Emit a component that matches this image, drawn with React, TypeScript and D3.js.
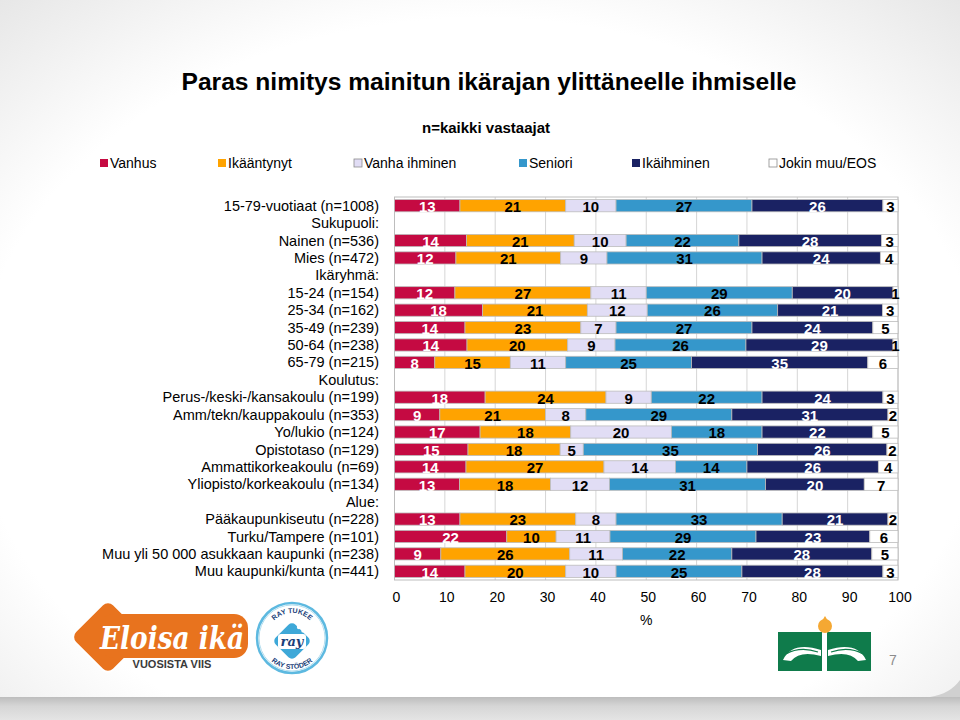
import React from "react";
import * as d3 from "d3";

const rowLabels = [
  "15-79-vuotiaat (n=1008)",
  "Sukupuoli:",
  "Nainen (n=536)",
  "Mies (n=472)",
  "Ikäryhmä:",
  "15-24 (n=154)",
  "25-34 (n=162)",
  "35-49 (n=239)",
  "50-64 (n=238)",
  "65-79 (n=215)",
  "Koulutus:",
  "Perus-/keski-/kansakoulu (n=199)",
  "Amm/tekn/kauppakoulu (n=353)",
  "Yo/lukio (n=124)",
  "Opistotaso (n=129)",
  "Ammattikorkeakoulu (n=69)",
  "Yliopisto/korkeakoulu (n=134)",
  "Alue:",
  "Pääkaupunkiseutu (n=228)",
  "Turku/Tampere (n=101)",
  "Muu yli 50 000 asukkaan kaupunki (n=238)",
  "Muu kaupunki/kunta (n=441)",
];

const seriesNames = ["Vanhus", "Ikääntynyt", "Vanha ihminen", "Seniori", "Ikäihminen", "Jokin muu/EOS"];

const vanhus = [13, null, 14.3, 12.2, null, 12, 17.5, 14, 14.4, 8, null, 18, 9, 17, 14.6, 14.2, 12.9, null, 13, 22.3, 9.2, 14];
const ikaantynyt = [21, null, 21.4, 20.8, null, 27, 20.8, 23, 20.0, 15, null, 24, 21, 18, 18.3, 27.4, 18.1, null, 23, 9.8, 25.6, 20];
const vanhaIhminen = [10, null, 10.3, 9.2, null, 11, 11.9, 7, 9.4, 11, null, 9, 8, 20, 4.6, 14.2, 11.7, null, 8, 10.7, 10.5, 10];
const seniori = [27, null, 22.4, 30.8, null, 29, 25.9, 27, 26.0, 25, null, 22, 29, 18, 34.6, 14.2, 31.0, null, 33, 29.0, 21.7, 25];
const ikaihminen = [26, null, 28.3, 23.5, null, 20, 20.8, 24, 29.2, 35, null, 24, 31, 22, 25.7, 26.1, 19.6, null, 21, 22.6, 27.8, 28];
const jokinMuu = [3, null, 3.3, 3.5, null, 1, 3.1, 5, 1.0, 6, null, 3, 2, 5, 2.2, 3.9, 6.7, null, 2, 5.6, 5.2, 3];

const xTicks = [0, 10, 20, 30, 40, 50, 60, 70, 80, 90, 100];

const seriesValues = [vanhus, ikaantynyt, vanhaIhminen, seniori, ikaihminen, jokinMuu];
const colors = ["#C50A42", "#FFA300", "#E1DDF5", "#3597CB", "#1A2263", "#FFFFFF"];
const labelColors = ["#FFFFFF", "#000000", "#000000", "#000000", "#FFFFFF", "#000000"];
const legendX = [100, 218, 354, 519, 632, 769];

const FONT = "'Liberation Sans', Arial, sans-serif";

export default function App() {
  const plotTop = 197;
  const plotBottom = 580;
  const x = d3.scaleLinear().domain([0, 100]).range([394.5, 898]);
  const y = d3
    .scaleBand<number>()
    .domain(d3.range(rowLabels.length))
    .range([plotTop, plotBottom])
    .paddingInner(0.3)
    .paddingOuter(0.15);

  const table = rowLabels.map((label, i) => {
    const vals = seriesValues.map((s) => s[i]);
    return { label, i, vals };
  });
  const stack = d3
    .stack<any>()
    .keys(d3.range(6).map(String))
    .value((d: any, k: string) => (d.vals[+k] == null ? 0 : d.vals[+k]));
  const stacked = stack(table.filter((r) => r.vals[0] != null) as any);

  return (
    <svg
      width={960}
      height={720}
      style={{ position: "absolute", left: 0, top: 0, fontFamily: FONT }}
    >
      <defs>
        <radialGradient id="bg" cx="50%" cy="55%" r="75%">
          <stop offset="0%" stopColor="#ffffff" />
          <stop offset="70%" stopColor="#ffffff" />
          <stop offset="100%" stopColor="#e6e6e6" />
        </radialGradient>
        <linearGradient id="bottomBand" x1="0" y1="0" x2="0" y2="1">
          <stop offset="0%" stopColor="#bdbdbd" />
          <stop offset="40%" stopColor="#d6d6d6" />
          <stop offset="100%" stopColor="#e4e4e4" />
        </linearGradient>
        <path id="rayTop" d="M 267 638 A 25 25 0 0 1 317 638" />
        <path id="rayBottom" d="M 261 638 A 31 31 0 0 0 323 638" />
      </defs>
      <rect x={0} y={0} width={960} height={720} fill="url(#bg)" />
      <rect x={0} y={697} width={960} height={23} fill="url(#bottomBand)" />
      <path d="M 930 697 Q 950 694 960 680 L 960 697 Z" fill="#d0d0d0" />

      {/* Title */}
      <text
        x={489}
        y={90}
        textAnchor="middle"
        fontSize={23}
        fontWeight="bold"
        textLength={615}
        lengthAdjust="spacingAndGlyphs"
      >
        Paras nimitys mainitun ikärajan ylittäneelle ihmiselle
      </text>
      <text
        x={486}
        y={133}
        textAnchor="middle"
        fontSize={14}
        fontWeight="bold"
        textLength={128}
        lengthAdjust="spacingAndGlyphs"
      >
        n=kaikki vastaajat
      </text>

      {/* Legend */}
      {seriesNames.map((name, k) => (
        <g key={name}>
          <rect
            x={legendX[k]}
            y={159}
            width={8}
            height={8}
            fill={colors[k]}
            stroke={k === 2 || k === 5 ? "#8c8c8c" : "none"}
            strokeWidth={0.8}
          />
          <text x={legendX[k] + 10} y={168} fontSize={14} fill="#000">
            {name}
          </text>
        </g>
      ))}

      {/* Grid */}
      {xTicks.map((t) => (
        <line
          key={t}
          x1={x(t)}
          x2={x(t)}
          y1={plotTop}
          y2={plotBottom}
          stroke="#d6d6d6"
          strokeWidth={1}
        />
      ))}
      <rect
        x={x(0)}
        y={plotTop}
        width={x(100) - x(0)}
        height={plotBottom - plotTop}
        fill="none"
        stroke="#bdbdbd"
        strokeWidth={1}
      />

      {/* Row labels */}
      {rowLabels.map((label, i) => (
        <text
          key={i}
          x={379}
          y={(y(i) as number) + y.bandwidth() / 2}
          dy="0.35em"
          textAnchor="end"
          fontSize={14.5}
          fill="#000"
        >
          {label}
        </text>
      ))}

      {/* Bars */}
      {stacked.map((layer, k) => (
        <g key={k}>
          {layer.map((seg: any) => {
            const row = seg.data;
            const v = row.vals[k];
            const x0 = x(seg[0]);
            const x1 = x(seg[1]);
            const yy = y(row.i) as number;
            return (
              <g key={row.i}>
                <rect
                  x={x0}
                  y={yy}
                  width={x1 - x0}
                  height={y.bandwidth()}
                  fill={colors[k]}
                  stroke="#bcbcbc"
                  strokeWidth={0.8}
                />
                <text
                  x={(x0 + x1) / 2}
                  y={yy + y.bandwidth() / 2}
                  dy="0.42em"
                  textAnchor="middle"
                  fontSize={15}
                  fontWeight="bold"
                  fill={labelColors[k]}
                >
                  {Math.round(v)}
                </text>
              </g>
            );
          })}
        </g>
      ))}

      {/* X axis */}
      {xTicks.map((t) => (
        <text key={t} x={x(t) + 2} y={602} textAnchor="middle" fontSize={14} fill="#000">
          {t}
        </text>
      ))}
      <text x={x(50)} y={625} textAnchor="middle" fontSize={14} fill="#000">
        %
      </text>

      {/* Eloisa ikä logo */}
      <g>
        <rect
          x={81}
          y={610}
          width={54}
          height={54}
          rx={8}
          transform="rotate(45 108 637)"
          fill="#E8731E"
          stroke="#fff"
          strokeWidth={2}
        />
        <rect x={100} y={614} width={148} height={44} rx={14} fill="#E8731E" />
        <text
          x={172}
          y={649}
          textAnchor="middle"
          fontSize={32}
          fontStyle="italic"
          fontWeight="bold"
          fill="#fff"
          fontFamily="'DejaVu Serif', serif"
          textLength={144}
          lengthAdjust="spacingAndGlyphs"
        >
          Eloisa ikä
        </text>
        <text x={172} y={668} textAnchor="middle" fontSize={11} fontWeight="bold" fill="#3a3a3a">
          VUOSISTA VIIS
        </text>
      </g>

      {/* RAY logo */}
      <g>
        <circle cx={292} cy={638} r={35} fill="#fff" stroke="#5DB9E0" strokeWidth={2.5} />
        <circle cx={292} cy={638} r={33} fill="none" stroke="#9fd4ea" strokeWidth={0.8} />
        <rect
          x={278}
          y={627}
          width={28}
          height={28}
          rx={5}
          transform="rotate(45 292 641)"
          fill="#3EA8D8"
        />
        <rect x={278} y={634} width={28} height={15} rx={3} fill="#fff" />
        <text
          x={292}
          y={646}
          textAnchor="middle"
          fontSize={13}
          fontStyle="italic"
          fontWeight="bold"
          fill="#1B3F7A"
          fontFamily="'DejaVu Serif', serif"
        >
          ray
        </text>
        <circle cx={299} cy={627} r={2.2} fill="#fff" />
        <circle cx={303} cy={631} r={1.6} fill="#fff" />
        <text fontSize={7} fontWeight="bold" fill="#1B3F7A">
          <textPath href="#rayTop" startOffset="50%" textAnchor="middle">
            RAY TUKEE
          </textPath>
        </text>
        <text fontSize={7} fontWeight="bold" fill="#1B3F7A">
          <textPath href="#rayBottom" startOffset="50%" textAnchor="middle">
            RAY STÖDER
          </textPath>
        </text>
      </g>

      {/* Right logo */}
      <g>
        <rect x={778} y={632} width={44} height={39} fill="#0F7B4B" />
        <rect x={827} y={632} width={44} height={39} fill="#0F7B4B" />
        <circle cx={825} cy={626} r={7} fill="#F5A833" />
        <path d="M 822 621 L 825 616 L 828 621 Z" fill="#F5A833" />
        <path d="M 783 660 Q 792 641 821 650 L 821 656 Q 800 650 791 661 Z" fill="#fff" />
        <path d="M 786 654 Q 800 646 818 652" fill="none" stroke="#0F7B4B" strokeWidth={1.2} />
        <path d="M 866 660 Q 857 641 828 650 L 828 656 Q 849 650 858 661 Z" fill="#fff" />
        <path d="M 863 654 Q 849 646 831 652" fill="none" stroke="#0F7B4B" strokeWidth={1.2} />
      </g>
      <text x={893} y={665} textAnchor="middle" fontSize={14} fill="#8c8c8c">
        7
      </text>
    </svg>
  );
}
